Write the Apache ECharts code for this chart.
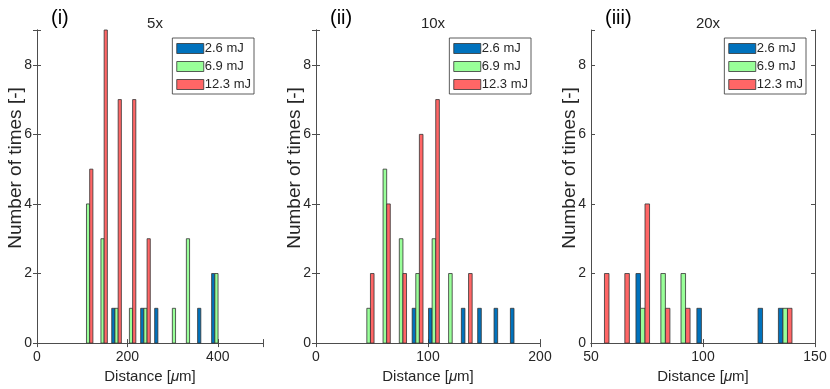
<!DOCTYPE html>
<html>
<head>
<meta charset="utf-8">
<script src="https://cdn.jsdelivr.net/npm/echarts@6/dist/echarts.min.js"></script>
<style>
	html, body { margin: 0; padding: 0; background: #fff; }
	#chart { width: 830px; height: 389px; }
</style>
</head>
<body>
<div id="chart"></div>
<script>
	// 图例名称
	var names = ['2.6 mJ', '6.9 mJ', '12.3 mJ'];
	var colors = ['#0072BD', '#99FF99', '#FF6666'];

	// (i) 5x
	var bins5x = [113, 145, 176, 208, 240, 271, 303, 334, 366, 397];
	var e26_5x = [0, 0, 1, 0, 1, 1, 0, 0, 1, 2];
	var e69_5x = [4, 3, 1, 1, 1, 0, 1, 3, 0, 2];
	var e123_5x = [5, 9, 7, 7, 3, 0, 0, 0, 0, 0];

	// (ii) 10x
	var bins10x = [47, 61.5, 76, 90.7, 105.3, 120, 134.6, 149.2, 163.8, 178.4];
	var e26_10x = [0, 0, 0, 1, 1, 0, 1, 1, 1, 1];
	var e69_10x = [1, 5, 3, 2, 3, 2, 0, 0, 0, 0];
	var e123_10x = [2, 4, 2, 6, 7, 0, 2, 0, 0, 0];

	// (iii) 20x
	var bins20x = [55, 64.1, 73.1, 82.2, 91.2, 100.3, 109.4, 118.5, 127.6, 136.7];
	var e26_20x = [0, 0, 2, 0, 0, 1, 0, 0, 1, 1];
	var e69_20x = [0, 0, 1, 2, 2, 0, 0, 0, 0, 1];
	var e123_20x = [2, 2, 4, 1, 1, 0, 0, 0, 0, 1];

	var panels = [
		{ tag: '(i)', title: '5x', bins: bins5x, vals: [e26_5x, e69_5x, e123_5x], min: 0, max: 500, step: 200, left: 37, width: 226 },
		{ tag: '(ii)', title: '10x', bins: bins10x, vals: [e26_10x, e69_10x, e123_10x], min: 0, max: 200, step: 100, left: 316, width: 224 },
		{ tag: '(iii)', title: '20x', bins: bins20x, vals: [e26_20x, e69_20x, e123_20x], min: 50, max: 150, step: 50, left: 591, width: 224 }
	];

	var TOP = 30, HEIGHT = 315;
	var font = 'Liberation Sans, Arial, sans-serif';
	var ink = '#262626';
	var axisCol = '#4d4d4d';

	/**
	 * 分组柱: k 为组内序号, 宽度取 bin 间距的 0.222
	 */
	function groupedBar(binStep, k) {
		return function (params, api) {
			var y = api.value(1);
			if (!y) return;
			var w = binStep * 0.222;
			var x0 = api.value(0) + (k - 1) * w - w / 2;
			var p0 = api.coord([x0, y]);
			var p1 = api.coord([x0 + w, 0]);
			return {
				type: 'rect',
				shape: { x: p0[0], y: p0[1], width: p1[0] - p0[0], height: p1[1] - p0[1] },
				style: { fill: api.visual('color'), stroke: '#333', lineWidth: 0.8 }
			};
		};
	}

	var grid = [], xAxis = [], yAxis = [], series = [], legend = [], title = [], graphic = [];

	panels.forEach(function (p, i) {
		grid.push({ left: p.left, top: TOP, width: p.width, height: HEIGHT });

		var xBase = {
			gridIndex: i, type: 'value', min: p.min, max: p.max, interval: p.step,
			axisLine: { lineStyle: { color: axisCol, width: 1 } },
			axisTick: { inside: true, length: 4, lineStyle: { color: axisCol } },
			splitLine: { show: false }
		};
		xAxis.push(Object.assign({}, xBase, {
			position: 'bottom',
			name: '{a|Distance [}{i|μ}{a|m]}',
			nameLocation: 'middle', nameGap: 25,
			nameTextStyle: {
				rich: {
					a: { fontFamily: font, fontSize: 15, color: ink },
					i: { fontFamily: font, fontSize: 15, color: ink, fontStyle: 'italic' }
				}
			},
			axisLabel: {
				fontFamily: font, fontSize: 14, color: ink, margin: 7,
				formatter: function (v) { return (v - p.min) % p.step === 0 ? String(v) : ''; }
			}
		}));
		xAxis.push(Object.assign({}, xBase, { position: 'top', axisLabel: { show: false } }));

		var yBase = {
			gridIndex: i, type: 'value', min: 0, max: 9, interval: 2,
			axisLine: { show: true, lineStyle: { color: axisCol, width: 1 } },
			axisTick: { show: true, inside: true, length: 4, lineStyle: { color: axisCol } },
			splitLine: { show: false }
		};
		yAxis.push(Object.assign({}, yBase, {
			position: 'left',
			axisLabel: {
				fontFamily: font, fontSize: 14, color: ink, margin: 5,
				formatter: function (v) { return v % 2 === 0 ? String(v) : ''; }
			}
		}));
		yAxis.push(Object.assign({}, yBase, { position: 'right', axisLabel: { show: false } }));

		// y 轴标题 (参考图中略偏上)
		graphic.push({
			type: 'text',
			x: p.left - 21, y: 168,
			rotation: Math.PI / 2,
			style: {
				text: 'Number of times [-]',
				font: '19px ' + font,
				fill: ink,
				align: 'center',
				verticalAlign: 'middle'
			}
		});

		var binStep = p.bins[1] - p.bins[0];
		p.vals.forEach(function (arr, k) {
			series.push({
				type: 'custom',
				name: names[k],
				xAxisIndex: i * 2,
				yAxisIndex: i * 2,
				itemStyle: { color: colors[k] },
				renderItem: groupedBar(binStep, k),
				data: p.bins.map(function (b, j) { return [b, arr[j]]; })
			});
		});

		legend.push({
			data: names,
			orient: 'vertical',
			right: 830 - (p.left + p.width) + 9,
			top: 38,
			icon: 'rect',
			itemWidth: 27,
			itemHeight: 10,
			itemGap: 5,
			padding: [4, 3, 3, 4],
			borderColor: '#333',
			borderWidth: 0.8,
			backgroundColor: '#fff',
			selectedMode: false,
			itemStyle: { borderColor: '#333', borderWidth: 0.8 },
			textStyle: { fontFamily: font, fontSize: 13, color: ink, padding: [0, 0, 0, -4] }
		});

		title.push({
			text: p.title,
			left: p.left + p.width / 2, top: 11, textAlign: 'center',
			textStyle: { fontFamily: font, fontSize: 15, fontWeight: 'normal', color: ink }
		});
		title.push({
			text: p.tag,
			left: p.left + 9, top: 3,
			textStyle: { fontFamily: font, fontSize: 20, fontWeight: 'normal', color: '#000' }
		});
	});

	var myChart = echarts.init(document.getElementById('chart'), null, { renderer: 'canvas' });
	myChart.setOption({
		animation: false,
		backgroundColor: '#fff',
		title: title,
		legend: legend,
		grid: grid,
		xAxis: xAxis,
		yAxis: yAxis,
		series: series,
		graphic: graphic
	});
</script>
</body>
</html>
